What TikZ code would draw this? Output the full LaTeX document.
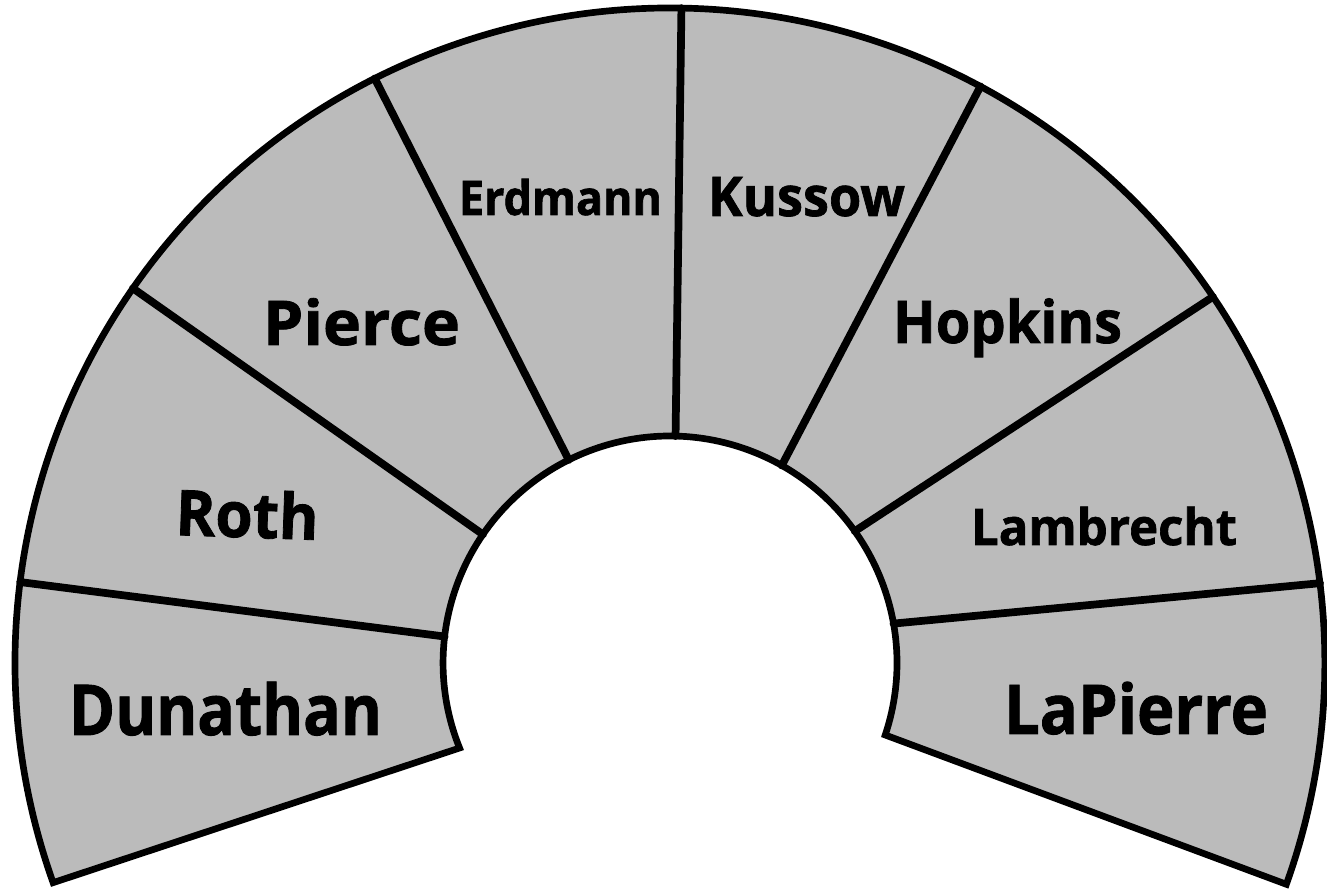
\documentclass[tikz,border=0pt]{standalone}
\usepackage{fontspec}
\setmainfont{Open Sans}[BoldFeatures={FakeBold=1.3}]
\usepackage{graphicx}
\newlength\pxlen
\setlength\pxlen{0.02cm}
% #1 font size (pt), #2 width in px, #3 text
\newcommand\seatlabel[3]{\resizebox{#2\pxlen}{\height}{\fontsize{#1pt}{#1pt}\selectfont\bfseries #3}}
\definecolor{seatgray}{HTML}{BBBBBB}
\tikzset{
  fanline/.style={line width=4.4pt, line join=round, line cap=round, draw=black},
  rimline/.style={line width=3.8pt, line join=miter, draw=black},
  namelbl/.style={anchor=base west, inner sep=0pt, outer sep=0pt, text=black}
}
\begin{document}
\begin{tikzpicture}[x=0.02cm, y=0.02cm]
\useasboundingbox (0,0) rectangle (1327,895);
\fill[white] (0,0) rectangle (1327,895);
\coordinate (C) at (670,232);
\begin{scope}[shift={(C)}]
  \path[fill=seatgray]
    (199.6:13.10cm) arc[start angle=199.6, end angle=-19.75, radius=13.10cm]
    -- (-18.5:4.54cm) arc[start angle=-18.5, end angle=202, radius=4.54cm]
    -- cycle;
  \foreach \i/\ai/\ao in {1/173.3/172.9, 2/145.5/145.1, 3/116.5/116.8, 4/88.6/89.0, 5/60.5/61.7, 6/35.5/34.0, 7/10.0/7.0}{
    \coordinate (in\i) at (\ai:4.54cm);
    \coordinate (out\i) at (\ao:13.10cm);
    \draw[fanline] (in\i) -- (out\i);
  }
  \draw[rimline]
    (199.6:13.10cm) arc[start angle=199.6, end angle=-19.75, radius=13.10cm]
    -- (-18.5:4.54cm) arc[start angle=-18.5, end angle=202, radius=4.54cm]
    -- cycle;
\end{scope}
\node[namelbl] (erdmann) at (459,680) {\seatlabel{27.1}{203}{Erdmann}};
\node[namelbl] (kussow) at (708,679) {\seatlabel{31.1}{197}{Kussow}};
\node[namelbl] (pierce) at (263,550) {\seatlabel{35.1}{197}{Pierce}};
\node[namelbl] (hopkins) at (893,552) {\seatlabel{33.5}{229}{Hopkins}};
\node[namelbl, rotate=-2] (roth) at (175,360) {\seatlabel{35.9}{143}{Roth}};
\node[namelbl] (lambrecht) at (971,350) {\seatlabel{28.7}{266}{Lambrecht}};
\node[namelbl] (dunathan) at (69,160) {\seatlabel{39.9}{313}{Dunathan}};
\node[namelbl] (lapierre) at (1004,161) {\seatlabel{39.1}{264}{LaPierre}};
\end{tikzpicture}
\end{document}
